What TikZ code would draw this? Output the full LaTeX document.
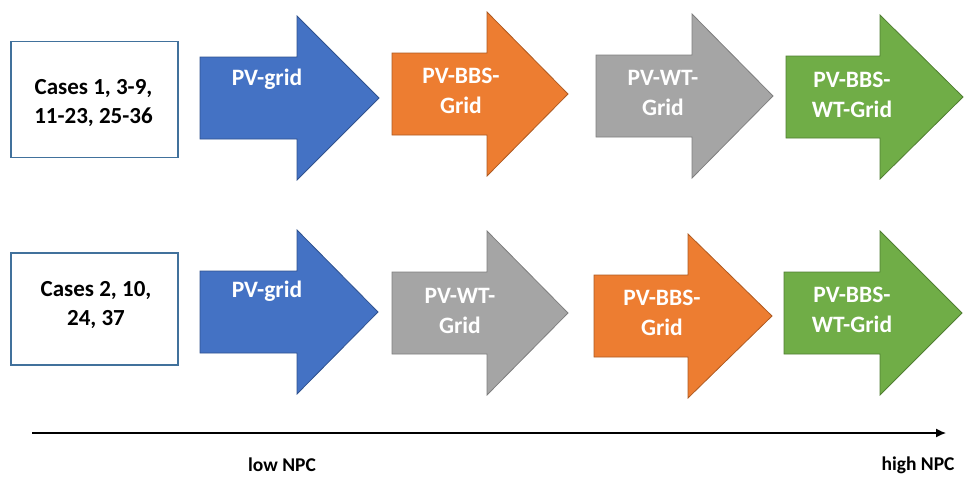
\documentclass[tikz,border=0pt]{standalone}
\usepackage{fontspec}
\setmainfont{Carlito}
\usetikzlibrary{arrows.meta}
\definecolor{cblue}{HTML}{4472C4}\definecolor{cbluel}{HTML}{2F528F}
\definecolor{corange}{HTML}{ED7D31}\definecolor{corangel}{HTML}{AE5A21}
\definecolor{cgray}{HTML}{A5A5A5}\definecolor{cgrayl}{HTML}{7F7F7F}
\definecolor{cgreen}{HTML}{70AD47}\definecolor{cgreenl}{HTML}{507E32}
\definecolor{cbox}{HTML}{41719C}
\newcommand{\fatarrow}[6]{% left, neck, tip, cy, fill, line
  \draw[#5, draw=#6, line width=0.8pt, line join=miter]
    (#1,#4-41) -- (#2,#4-41) -- (#2,#4-82) -- (#3,#4) -- (#2,#4+82)
    -- (#2,#4+41) -- (#1,#4+41) -- cycle;}
\begin{document}
\begin{tikzpicture}[x=1pt,y=-1pt,
  lbl/.style={font=\bfseries\fontsize{23.5}{30}\selectfont, text=white, align=center, inner sep=0pt},
  casebox/.style={draw=cbox, line width=1.2pt, fill=white, minimum width=167pt, minimum height=116pt, inner sep=0pt},
  casetext/.style={font=\bfseries\fontsize{23}{28.5}\selectfont, align=center, inner sep=0pt},
  axlbl/.style={font=\bfseries\fontsize{19.5}{22}\selectfont, inner sep=0pt}]
\useasboundingbox (0,0) rectangle (968,477);
% row 1
\node[casebox] (c1) at (94.5,99.5) {};
\node[casetext] (t1) at (93.5,103) {Cases 1, 3-9,\\11-23, 25-36};
\fatarrow{200}{297}{379}{98}{fill=cblue}{cbluel}
\fatarrow{392}{487}{568}{94}{fill=corange}{corangel}
\fatarrow{596}{692}{773}{96}{fill=cgray}{cgrayl}
\fatarrow{786}{880}{963}{97}{fill=cgreen}{cgreenl}
\node[lbl] (a1) at (267,79) {PV-grid};
\node[lbl] (a2) at (461,91) {PV-BBS-\\Grid};
\node[lbl] (a3) at (663,93) {PV-WT-\\Grid};
\node[lbl] (a4) at (852,95) {PV-BBS-\\WT-Grid};
% row 2
\node[casebox, minimum height=112pt] (c2) at (94.5,309) {};
\node[casetext] (t2) at (96,305) {Cases 2, 10,\\24, 37};
\fatarrow{200}{297}{378}{312}{fill=cblue}{cbluel}
\fatarrow{392}{487}{568}{313}{fill=cgray}{cgrayl}
\fatarrow{594}{688}{772}{316}{fill=corange}{corangel}
\fatarrow{784}{880}{962}{313}{fill=cgreen}{cgreenl}
\node[lbl] (b1) at (267,291) {PV-grid};
\node[lbl] (b2) at (460,311) {PV-WT-\\Grid};
\node[lbl] (b3) at (662,313) {PV-BBS-\\Grid};
\node[lbl] (b4) at (852,310) {PV-BBS-\\WT-Grid};
% axis
\coordinate (s) at (32,433);
\coordinate (e) at (946,433);
\draw[line width=1.3pt, -{Latex[length=10pt,width=9pt]}] (s) -- (e);
\node[axlbl] (lo) at (282,465) {low NPC};
\node[axlbl] (hi) at (918,465) {high NPC};
\end{tikzpicture}
\end{document}
